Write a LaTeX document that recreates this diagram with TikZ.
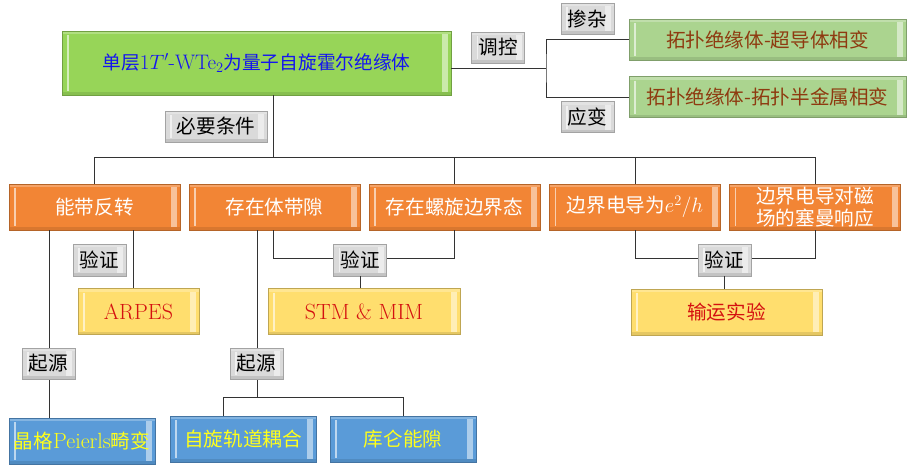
\documentclass[tikz,border=0pt]{standalone}
\usepackage{fontspec}
\newfontfamily\cjk[Scale=0.89]{Noto Sans CJK SC}
\newcommand\ZH[1]{{\cjk #1}}
\usetikzlibrary{calc}
\definecolor{mgreen}{HTML}{97D558}
\definecolor{lgreen}{HTML}{ABD48F}
\definecolor{morange}{HTML}{F28535}
\definecolor{myellow}{HTML}{FFDE6E}
\definecolor{mblue}{HTML}{5A9BD8}
\definecolor{labgray}{HTML}{DADADA}
\definecolor{tblue}{HTML}{1414F0}
\definecolor{tbrown}{HTML}{8E3A10}
\definecolor{tred}{HTML}{D41010}
\definecolor{tyellow}{HTML}{FFFF1A}
\tikzset{
 conn/.style={draw=black!80, line width=1pt},
 bevel/.style={path picture={
   \fill[white,opacity=0.5] ([xshift=-9pt,yshift=-3pt]path picture bounding box.north east) rectangle ([xshift=-3pt,yshift=3pt]path picture bounding box.south east);
   \draw[white,opacity=0.6,line width=1.2pt] ([xshift=6pt,yshift=-4pt]path picture bounding box.north west) -- ([xshift=6pt,yshift=4pt]path picture bounding box.south west);
   \fill[black,opacity=0.1] (path picture bounding box.south west) rectangle ([yshift=3pt]path picture bounding box.south east);
   \fill[white,opacity=0.25] (path picture bounding box.north west) rectangle ([yshift=-3pt]path picture bounding box.north east);
 }},
 box/.style 2 args={rectangle, inner sep=0pt, align=center, fill=#1, draw=#1!75!black, line width=0.6pt, text=#2, bevel, font=\fontsize{22}{22.5}\selectfont},
 lab/.style={box={labgray}{black}, minimum width=53pt, minimum height=31pt},
 obox/.style={box={morange}{white}, minimum width=171pt, minimum height=46pt},
 ybox/.style={box={myellow}{tred}, minimum height=46pt},
 bbox/.style={box={mblue}{tyellow}, minimum width=146pt, minimum height=46pt},
 gbox/.style={box={lgreen}{tbrown}, minimum width=277pt, minimum height=41pt},
}
\begin{document}
\begin{tikzpicture}[x=1pt,y=-1pt]
\useasboundingbox (0,0) rectangle (907,466);
% nodes
\node[box={mgreen}{tblue}, minimum width=389pt, minimum height=64pt, font=\fontsize{21}{24}\selectfont] (main) at (256.5,63) {\ZH{单层}1$T'$-WTe$_2$\ZH{为量子自旋霍尔绝缘体}};
\node[gbox] (g1) at (767.5,39.5) {\ZH{拓扑绝缘体-超导体相变}};
\node[gbox] (g2) at (767.5,97) {\ZH{拓扑绝缘体-拓扑半金属相变}};
\node[obox] (o1) at (94.5,207) {\ZH{能带反转}};
\node[obox] (o2) at (274.5,207) {\ZH{存在体带隙}};
\node[obox] (o3) at (454.5,207) {\ZH{存在螺旋边界态}};
\node[obox] (o4) at (635,207) {\ZH{边界电导为}$e^2/h$};
\node[obox] (o5) at (815,207) {\ZH{边界电导对磁}\\\ZH{场的塞曼响应}};
\node[ybox, minimum width=121pt] (ar) at (138.5,311.5) {ARPES};
\node[ybox, minimum width=192pt] (stm) at (364,311.5) {STM \& MIM};
\node[ybox, minimum width=191pt] (sy) at (726.5,312) {\ZH{输运实验}};
\node[bbox] (pe) at (82,441) {\ZH{晶格}Peierls\ZH{畸变}};
\node[bbox] (soc) at (243,439) {\ZH{自旋轨道耦合}};
\node[bbox] (kl) at (403,439) {\ZH{库仑能隙}};
% junction coordinates
\coordinate (jr) at (546,68);
\coordinate (bus) at (0,157);
\coordinate (jb) at (0,258);
\coordinate (ja) at (133,0);
\coordinate (jq1) at (49,0);
\coordinate (jq2) at (257,0);
\coordinate (jo2) at (273,0);
\coordinate (jsoc) at (223,0);
\coordinate (jbb) at (0,397);
% connectors
\draw[conn] (main.east |- jr) -- (jr);
\draw[conn] (g1.west) -| (jr) |- (g2.west);
\draw[conn] (main.south -| jo2) -- (jo2 |- bus);
\draw[conn] (o1.north) -- (o1.north |- bus) -- (o5.north |- bus) -- (o5.north);
\draw[conn] (o3.north) -- (o3.north |- bus);
\draw[conn] (o4.north) -- (o4.north |- bus);
\draw[conn] (o1.south -| ja) -- (ar.north -| ja);
\draw[conn] (o1.south -| jq1) -- (pe.north -| jq1);
\draw[conn] (o2.south -| jq2) -- (jbb -| jq2);
\draw[conn] (jbb -| jsoc) -- (jbb -| kl.north);
\draw[conn] (jbb -| jsoc) -- (soc.north -| jsoc);
\draw[conn] (jbb -| kl.north) -- (kl.north);
\draw[conn] (o2.south -| jo2) |- (jb -| o3.south) -- (o3.south);
\draw[conn] (o4.south) |- (jb -| o5.south) -- (o5.south);
% labels
\node[lab] (tk) at (498,47.5) {\ZH{调控}};
\node[lab] (cz) at (587.5,18.5) {\ZH{掺杂}};
\node[lab] (yb) at (587.5,117) {\ZH{应变}};
\node[lab, minimum width=102pt] (bx) at (216,126.5) {\ZH{必要条件}};
\node[lab, minimum height=32pt] (yz1) at (99.5,260) {\ZH{验证}};
\node[lab, minimum height=32pt] (yz2) at (360,260) {\ZH{验证}};
\node[lab, minimum height=32pt] (yz3) at (724.5,260) {\ZH{验证}};
\node[lab] (qy1) at (48.5,363.5) {\ZH{起源}};
\node[lab] (qy2) at (256.5,363.5) {\ZH{起源}};
\draw[conn] (yz2.south) -- (yz2.south |- stm.north);
\draw[conn] (yz3.south) -- (yz3.south |- sy.north);
\end{tikzpicture}
\end{document}
